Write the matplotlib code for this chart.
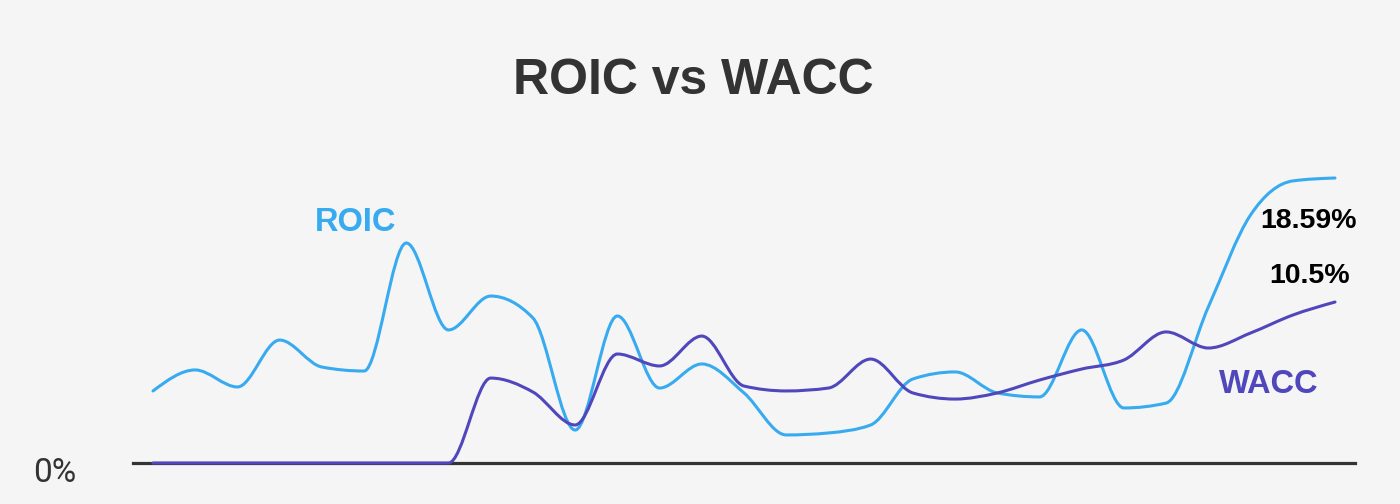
import numpy as np
import matplotlib
matplotlib.use("Agg")
import matplotlib.pyplot as plt
from matplotlib.path import Path
from matplotlib.patches import PathPatch

# Quarterly values (%)
roic = [4.70, 6.07, 4.96, 8.02, 6.26, 6.00, 14.35, 8.68, 10.89, 9.46,
        2.15, 9.59, 4.89, 6.46, 4.57, 1.83, 1.96, 2.48, 5.48, 5.94,
        4.57, 4.31, 8.68, 3.59, 3.91, 10.18, 16.18, 18.40, 18.59]
wacc = [0, 0, 0, 0, 0, 0, 0, 0, 5.54, 4.63,
        2.48, 7.11, 6.33, 8.28, 5.02, 4.70, 4.89, 6.78, 4.57, 4.17,
        4.57, 5.41, 6.13, 6.72, 8.55, 7.50, 8.48, 9.65, 10.50]
periods = list(range(len(roic)))

ROIC_COLOR = "#38aaf0"
WACC_COLOR = "#4f47bb"
BG = "#f5f5f5"


def smooth_path(x, y):
    # monotone cubic (same idea as d3 curveMonotoneX), drawn as bezier segments
    x = np.asarray(x, float)
    y = np.asarray(y, float)
    h = np.diff(x)
    s = np.diff(y) / h
    m = np.zeros(len(x))
    for i in range(1, len(x) - 1):
        p = (s[i - 1] * h[i] + s[i] * h[i - 1]) / (h[i - 1] + h[i])
        m[i] = (np.sign(s[i - 1]) + np.sign(s[i])) * min(abs(s[i - 1]), abs(s[i]), 0.5 * abs(p))
    m[0] = (3 * s[0] - m[1]) / 2
    m[-1] = (3 * s[-1] - m[-2]) / 2
    verts = [(x[0], y[0])]
    codes = [Path.MOVETO]
    for i in range(len(x) - 1):
        d = h[i] / 3
        verts += [(x[i] + d, y[i] + m[i] * d), (x[i + 1] - d, y[i + 1] - m[i + 1] * d), (x[i + 1], y[i + 1])]
        codes += [Path.CURVE4] * 3
    return Path(verts, codes)


plt.rcParams['font.family'] = ['Liberation Sans', 'DejaVu Sans']

fig = plt.figure(figsize=(14, 5.04), dpi=100, facecolor=BG)
ax = fig.add_axes([133 / 1400, 41 / 504, 1222 / 1400, 306.6 / 504])
ax.set_facecolor(BG)

ax.set_xlim(-0.474, 28.474)
ax.set_ylim(0, 20)

ax.axhline(0, color="#333333", lw=2.3, zorder=1, clip_on=False)

for vals, col in [(roic, ROIC_COLOR), (wacc, WACC_COLOR)]:
    patch = PathPatch(smooth_path(periods, vals), facecolor="none", edgecolor=col,
                      lw=2.2, zorder=2, clip_on=False, capstyle="round", joinstyle="round")
    ax.add_patch(patch)

for sp in ax.spines.values():
    sp.set_visible(False)
ax.set_xticks([])
ax.set_yticks([])

# title and labels
fig.text(693 / 1400, 1 - 94 / 504, "ROIC vs WACC", ha="center", va="baseline",
         fontsize=36, fontweight="bold", color="#333333")
fig.text(315 / 1400, 1 - 231 / 504, "ROIC", ha="left", va="baseline",
         fontsize=23.5, fontweight="bold", color=ROIC_COLOR)
fig.text(1219 / 1400, 1 - 393 / 504, "WACC", ha="left", va="baseline",
         fontsize=23.5, fontweight="bold", color=WACC_COLOR)
fig.text(1308 / 1400, 1 - 228 / 504, f"{roic[-1]:.2f}%", ha="center", va="baseline",
         fontsize=20.5, fontweight="bold", color="black")
fig.text(1310 / 1400, 1 - 283 / 504, f"{wacc[-1]:.1f}%", ha="center", va="baseline",
         fontsize=20.5, fontweight="bold", color="black")
fig.text(33 / 1400, 1 - 482 / 504, "0%", ha="left", va="baseline",
         fontsize=24, color="#333333", family=["Roboto", "DejaVu Sans"])

fig.savefig("out.png", dpi=100, facecolor=BG)
